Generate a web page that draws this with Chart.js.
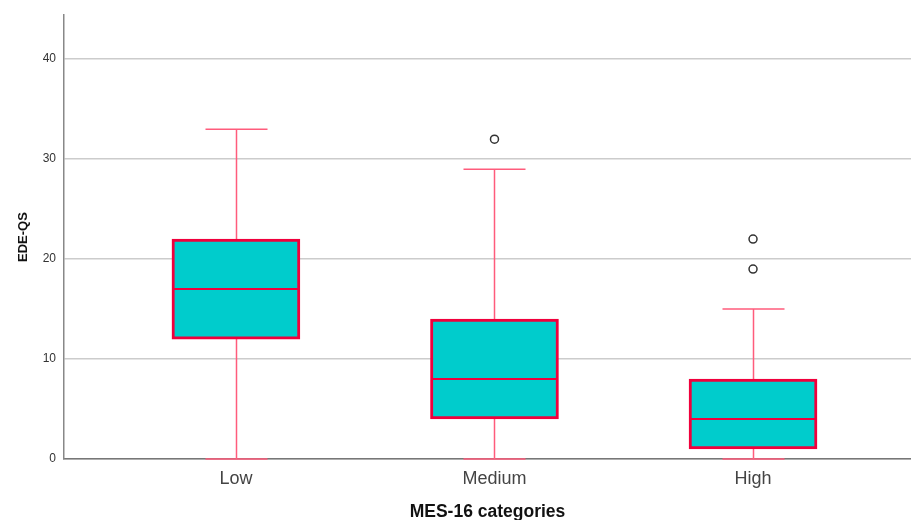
<!DOCTYPE html>
<html>
<head>
<meta charset="utf-8">
<script src="https://cdn.jsdelivr.net/npm/chart.js@4"></script>
<style>
  html, body { margin: 0; padding: 0; background: #fff; overflow: hidden; }
  #wrap { width: 911px; height: 520px; position: relative; }
  #box { display: block; }
</style>
</head>
<body>
<div id="wrap"><canvas id="box"></canvas></div>
<script>
const categories = ['Low', 'Medium', 'High'];
const whiskerLow = [0, 0, 0];
const q1 = [12, 4, 1];
const median = [17, 8, 4];
const q3 = [22, 14, 8];
const whiskerHigh = [33, 29, 15];
const outliers = [[], [32], [19, 22]];
const yTicks = [0, 10, 20, 30, 40];

const boxFill = '#00CCCC';
const boxEdge = '#F0003C';
const whiskerColor = '#FF5C7C';

const pos = categories.map((c, i) => i + 1);

const boxPlugin = {
  id: 'boxparts',
  beforeDatasetsDraw(chart) {
    const { ctx, scales: { x, y } } = chart;
    ctx.save();
    ctx.strokeStyle = whiskerColor;
    ctx.lineWidth = 1.5;
    pos.forEach((p, i) => {
      const cx = Math.round(x.getPixelForValue(p)) + 0.5;
      const half = 31;
      // lower whisker
      ctx.beginPath();
      ctx.moveTo(cx, y.getPixelForValue(q1[i]));
      ctx.lineTo(cx, y.getPixelForValue(whiskerLow[i]));
      ctx.moveTo(cx - half, y.getPixelForValue(whiskerLow[i]));
      ctx.lineTo(cx + half, y.getPixelForValue(whiskerLow[i]));
      // upper whisker
      ctx.moveTo(cx, y.getPixelForValue(q3[i]));
      ctx.lineTo(cx, y.getPixelForValue(whiskerHigh[i]));
      ctx.moveTo(cx - half, y.getPixelForValue(whiskerHigh[i]));
      ctx.lineTo(cx + half, y.getPixelForValue(whiskerHigh[i]));
      ctx.stroke();
    });
    ctx.restore();
  },
  afterDatasetsDraw(chart) {
    const { ctx, scales: { x, y } } = chart;
    ctx.save();
    ctx.strokeStyle = boxEdge;
    ctx.lineWidth = 2;
    pos.forEach((p, i) => {
      const cx = x.getPixelForValue(p);
      const my = y.getPixelForValue(median[i]);
      ctx.beginPath();
      ctx.moveTo(cx - 63, my);
      ctx.lineTo(cx + 63, my);
      ctx.stroke();
    });
    ctx.restore();
  }
};

const outlierPoints = [];
outliers.forEach((list, i) => list.forEach(v => outlierPoints.push({ x: pos[i], y: v })));

new Chart(document.getElementById('box'), {
  type: 'bar',
  data: {
    datasets: [{
      label: 'EDE-QS',
      data: pos.map((p, i) => ({ x: p, y: [q1[i], q3[i]] })),
      backgroundColor: boxFill,
      borderColor: boxEdge,
      borderWidth: 3,
      borderSkipped: false,
      barThickness: 128,
      order: 2
    }, {
      type: 'scatter',
      label: 'outliers',
      data: outlierPoints,
      pointRadius: 4,
      pointBorderWidth: 1.5,
      pointBackgroundColor: '#fff',
      pointBorderColor: '#333',
      order: 1
    }]
  },
  options: {
    responsive: true,
    maintainAspectRatio: false,
    animation: false,
    layout: { autoPadding: false, padding: { top: 14, right: 0, left: 0, bottom: 0 } },
    plugins: { legend: { display: false }, tooltip: { enabled: false } },
    scales: {
      x: {
        type: 'linear',
        offset: false,
        min: 0.335,
        max: 3.611,
        afterBuildTicks: s => { s.ticks = pos.map(v => ({ value: v })); },
        afterFit: s => { s.height = 61; s.paddingLeft = 0; s.paddingRight = 0; },
        grid: { display: false, drawTicks: false },
        border: { display: true, color: '#777', width: 1.5 },
        ticks: {
          padding: 9,
          color: '#444',
          font: { family: 'Liberation Sans', size: 18 },
          callback: v => categories[v - 1]
        },
        title: {
          display: true,
          text: 'MES-16 categories',
          color: '#111',
          padding: { top: 4, bottom: -3 },
          font: { family: 'Liberation Sans', size: 17.5, weight: 'bold' }
        }
      },
      y: {
        min: 0,
        max: 44.4,
        afterBuildTicks: s => { s.ticks = yTicks.map(v => ({ value: v })); },
        afterFit: s => { s.width = 64; },
        grid: { color: '#CCCCCC', lineWidth: 1.5, drawTicks: false },
        border: { display: true, color: '#888', width: 1.5 },
        ticks: {
          padding: 8,
          color: '#333',
          font: { family: 'Liberation Sans', size: 12 }
        },
        title: {
          display: true,
          text: 'EDE-QS',
          color: '#111',
          padding: { top: 16, bottom: 4 },
          font: { family: 'Liberation Sans', size: 13, weight: 'bold' }
        }
      }
    }
  },
  plugins: [boxPlugin]
});
</script>
</body>
</html>
